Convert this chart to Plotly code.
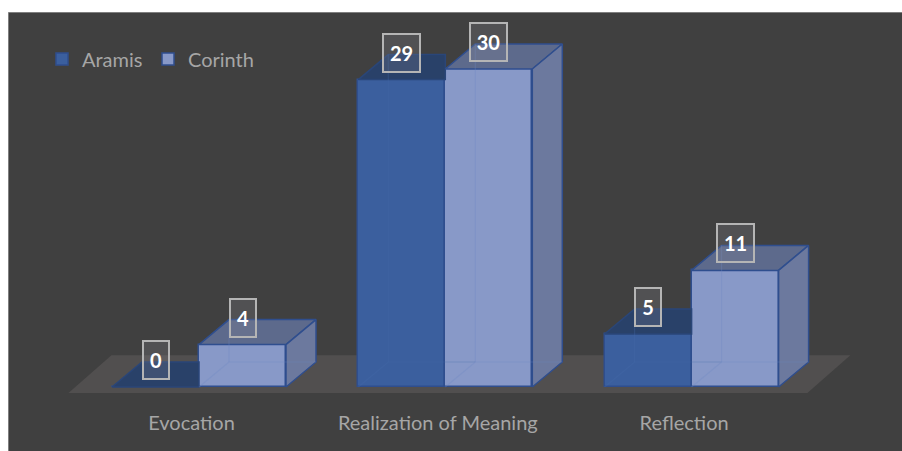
import plotly.graph_objects as go

categories = ["Evocation", "Realization of Meaning", "Reflection"]
aramis = [0, 29, 5]
corinth = [4, 30, 11]

W, H = 902, 451
PX_PER_CAT = 246.3
PX_PER_VAL = 10.6
BOTTOM = 51
PLOT_H = H - BOTTOM
X0_PX = 199
Y0_PX = 387
BAR_W = 87 / PX_PER_CAT
DX = 30 / PX_PER_CAT
DY = 25 / PX_PER_VAL
LABEL_SHIFT = 7.5 / PX_PER_CAT

x_range = [-X0_PX / PX_PER_CAT, (W - X0_PX) / PX_PER_CAT]
y_range = [-(PLOT_H - Y0_PX) / PX_PER_VAL, Y0_PX / PX_PER_VAL]
idx = list(range(len(categories)))

FONT = "Lato"
TXT = "#A6A6A6"
EDGE = "#2F4E8E"


def poly(xs, ys, fill, line=EDGE, width=1.5):
    return go.Scatter(x=xs + xs[:1], y=ys + ys[:1], mode="lines", fill="toself", fillcolor=fill,
                      line=dict(color=line, width=width), showlegend=False, hoverinfo="skip")


def hidden(l, r, v, color):
    xs = [l, l + DX, r + DX, None, l + DX, l + DX]
    ys = [0, DY, DY, None, DY, v + DY]
    return go.Scatter(x=xs, y=ys, mode="lines", line=dict(color=color, width=1.2),
                      showlegend=False, hoverinfo="skip")


fig = go.Figure()

# fronts
fig.add_bar(x=[i - BAR_W / 2 for i in idx], y=aramis, width=BAR_W, name="Aramis",
            marker=dict(color="#3B5F9E", line=dict(color=EDGE, width=1.5)))
fig.add_bar(x=[i + BAR_W / 2 for i in idx], y=corinth, width=BAR_W, name="Corinth",
            marker=dict(color="#8899C8", line=dict(color=EDGE, width=1.5)))

# Aramis top face (Corinth hides everything right of its front edge)
for i, v in zip(idx, aramis):
    l, r = i - BAR_W, i
    fig.add_trace(poly([l, l + DX, r, r], [v, v + DY, v + DY, v], "#294169", line="#2A4678"))
    if v > 0:
        fig.add_trace(hidden(l, r, v, "rgba(70,105,170,0.3)"))

# Corinth top, side and faint inner edges
for i, v in zip(idx, corinth):
    l, r = i, i + BAR_W
    fig.add_trace(poly([l, l + DX, r + DX, r], [v, v + DY, v + DY, v], "#5D6A8C"))
    fig.add_trace(poly([r, r + DX, r + DX, r], [0, DY, v + DY, v], "#6C799E"))
    fig.add_trace(hidden(l, r, v, "rgba(110,135,195,0.3)"))

fig.update_layout(
    width=W, height=H, autosize=False, showlegend=True,
    margin=dict(l=0, r=0, t=0, b=BOTTOM, pad=0),
    paper_bgcolor="white", plot_bgcolor="rgba(0,0,0,0)",
    barmode="overlay", bargap=0,
    font=dict(family=FONT, color=TXT, size=20),
    legend=dict(orientation="h", x=42 / W, y=(PLOT_H - 59) / PLOT_H, xanchor="left", yanchor="middle",
                entrywidth=61, entrywidthmode="pixels",
                bgcolor="rgba(0,0,0,0)", font=dict(size=20, color=TXT, family=FONT)),
    xaxis=dict(range=x_range, tickmode="array", tickvals=[i - LABEL_SHIFT for i in idx],
               ticktext=categories, showgrid=False,
               zeroline=False, showline=False, ticks="outside", ticklen=5, tickcolor="rgba(0,0,0,0)",
               tickfont=dict(family=FONT, size=20, color=TXT), fixedrange=True),
    yaxis=dict(range=y_range, visible=False, showgrid=False, zeroline=False, fixedrange=True),
)

# panel & floor
fig.add_shape(type="rect", xref="paper", yref="paper", x0=8.5 / W, x1=1.01,
              y0=-BOTTOM / PLOT_H - 0.01, y1=(PLOT_H - 12.5) / PLOT_H,
              fillcolor="#404040", line=dict(color="#7F7F7F", width=1), layer="below")
fl, fr = idx[0] - 0.53, idx[-1] + 0.47
fy, by = -0.57, 3.0
fdx = 43 / PX_PER_CAT
fig.add_shape(type="path", layer="below", line=dict(width=0), fillcolor="#514F4F",
              path=f"M{fl},{fy} L{fl + fdx},{by} L{fr + fdx},{by} L{fr},{fy} Z")

# data labels
for off, vals in ((-BAR_W / 2, aramis), (BAR_W / 2, corinth)):
    for i, v in zip(idx, vals):
        fig.add_annotation(x=i + off, y=v, yshift=27, text=f"<b>{v}</b>", showarrow=False,
                           width=22 if v < 10 else 33, height=34, borderpad=1,
                           bgcolor="rgba(140,140,150,0.22)", bordercolor="#B5B5B5", borderwidth=2,
                           font=dict(family=FONT, size=20, color="white"))

fig.write_html("out.html", config={"displayModeBar": False},
               post_script="document.body.style.margin='0';")
